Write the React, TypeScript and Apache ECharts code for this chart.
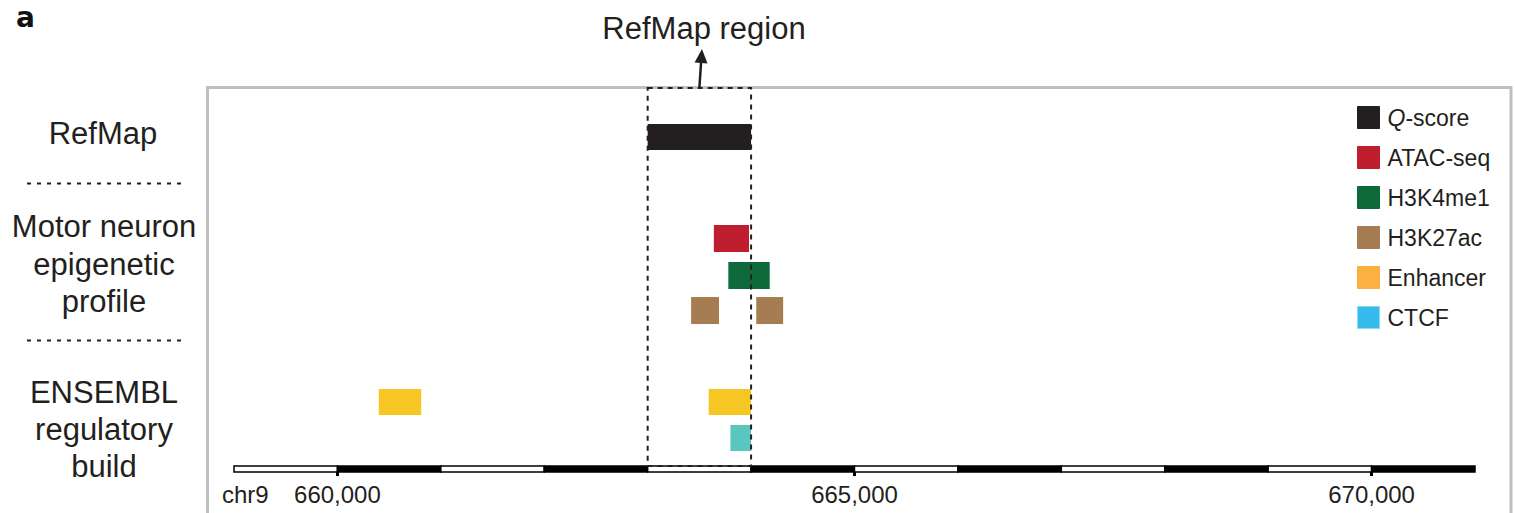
import React, { useEffect, useRef } from "react";
import * as echarts from "echarts";

// ---- data (genomic coordinates, bp) ----
const xRange = [659000, 671000];
const tickValues = [660000, 665000, 670000];

// track rows on a vertical "track" scale (0 = top of panel)
// each feature: [start, end, rowTop, rowBottom]
const qScore = [[663000, 664000, 3.0, 5.17]];
const atacSeq = [[663640, 663980, 11.42, 13.67]];
const h3k4me1 = [[663780, 664180, 14.5, 16.75]];
const h3k27ac = [
  [663420, 663690, 17.42, 19.67],
  [664050, 664310, 17.42, 19.67],
];
const ensemblEnhancer = [
  [660400, 660810, 25.08, 27.25],
  [663590, 664000, 25.08, 27.25],
];
const ensemblCtcf = [[663800, 664000, 28.08, 30.25]];

const refMapRegion = [[663000, 664000, 0, 31.5]];
const arrowData = [[663500, 0, 663525, -3.25]];

// chromosome scale bar blocks: [start, end, filled]
const scaleBlocks = [
  [659000, 660000, 0],
  [660000, 661000, 1],
  [661000, 662000, 0],
  [662000, 663000, 1],
  [663000, 664000, 0],
  [664000, 665000, 1],
  [665000, 666000, 0],
  [666000, 667000, 1],
  [667000, 668000, 0],
  [668000, 669000, 1],
  [669000, 670000, 0],
  [670000, 671000, 1],
];
const scaleBarRow = [31.5, 32];

const legendNames = ["Q-score", "ATAC-seq", "H3K4me1", "H3K27ac", "Enhancer", "CTCF"];
const legendColors = ["#231F20", "#BE1E2D", "#0E6A3A", "#A67C52", "#FBB040", "#35BCEC"];
const ensemblColors = { Enhancer: "#F6C723", CTCF: "#5BC5BF" };

const FAMILY = "Liberation Sans, Arial, Helvetica, sans-serif";
const INK = "#231F20";

function rectItem(color: string) {
  return (params: any, api: any) => {
    const p1 = api.coord([api.value(0), api.value(2)]);
    const p2 = api.coord([api.value(1), api.value(3)]);
    return {
      type: "rect",
      shape: {
        x: Math.min(p1[0], p2[0]),
        y: Math.min(p1[1], p2[1]),
        width: Math.abs(p2[0] - p1[0]),
        height: Math.abs(p2[1] - p1[1]),
      },
      style: { fill: color },
    };
  };
}

export default function App() {
  const ref = useRef<HTMLDivElement>(null);

  useEffect(() => {
    document.body.style.margin = "0";
    if (!ref.current) return;
    const chart = echarts.init(ref.current, null, { renderer: "svg" });

    const featureSeries = (name: string, data: number[][], color: string) => ({
      type: "custom",
      name,
      data,
      encode: { x: [0, 1], y: [2, 3] },
      renderItem: rectItem(color),
      itemStyle: { color },
      z: 3,
    });

    const labelText = (text: string, x: number, y: number, lineHeight?: number) => ({
      type: "text",
      x,
      y,
      style: {
        text,
        fontSize: 31,
        fontFamily: FAMILY,
        lineHeight: lineHeight || 36,
        fill: INK,
        align: "center",
        verticalAlign: "middle",
      },
    });

    const option: any = {
      animation: false,
      backgroundColor: "#ffffff",
      grid: { left: 234, right: 40, top: 88, bottom: 41 },
      xAxis: {
        type: "value",
        position: "bottom",
        min: xRange[0],
        max: xRange[1],
        splitLine: { show: false },
        axisLine: { show: false, onZero: false },
        axisTick: {
          show: true,
          customValues: tickValues,
          length: 4,
          lineStyle: { color: "#000", width: 3 },
        },
        axisLabel: {
          show: true,
          customValues: tickValues,
          margin: 10,
          fontSize: 24,
          fontFamily: FAMILY,
          color: INK,
          formatter: (v: number) => v.toLocaleString("en-US"),
        },
      },
      yAxis: {
        type: "value",
        inverse: true,
        min: 0,
        max: 32,
        show: false,
      },
      legend: {
        orient: "vertical",
        left: 1357,
        top: 106,
        padding: 0,
        itemWidth: 22,
        itemHeight: 22,
        itemGap: 17,
        icon: "rect",
        selectedMode: false,
        textStyle: {
          fontSize: 23,
          fontFamily: FAMILY,
          color: INK,
          padding: [0, 0, 0, 3],
          rich: {
            i: { fontSize: 23, fontFamily: FAMILY, color: INK, fontStyle: "italic" },
            n: { fontSize: 23, fontFamily: FAMILY, color: INK },
          },
        },
        formatter: (name: string) => (name === "Q-score" ? "{i|Q}{n|-score}" : name),
        data: legendNames.map((n, i) => ({
          name: n,
          itemStyle: {
            color: legendColors[i],
            borderColor: n === "CTCF" ? "#8BD6F2" : legendColors[i],
            borderWidth: 1,
          },
        })),
      },
      graphic: [
        {
          type: "rect",
          z: 0,
          shape: { x: 207.5, y: 87.5, width: 1303.5, height: 500 },
          style: { fill: "none", stroke: "#BFBFBF", lineWidth: 3 },
        },
        {
          type: "text",
          left: 16,
          top: 3,
          style: {
            text: "a",
            fontSize: 28,
            fontWeight: "bold",
            fontFamily: "DejaVu Sans, Liberation Sans, sans-serif",
            fill: "#111",
          },
        },
        {
          type: "text",
          x: 704,
          y: 28,
          style: {
            text: "RefMap region",
            fontSize: 31,
            fontFamily: FAMILY,
            fill: INK,
            align: "center",
            verticalAlign: "middle",
          },
        },
        labelText("RefMap", 103, 133),
        labelText("Motor neuron\nepigenetic\nprofile", 104, 264, 37.5),
        labelText("ENSEMBL\nregulatory\nbuild", 104, 429, 37),
        {
          type: "line",
          shape: { x1: 27, y1: 183.5, x2: 182, y2: 183.5 },
          style: { stroke: INK, lineWidth: 2, lineDash: [4, 6] },
        },
        {
          type: "line",
          shape: { x1: 27, y1: 340.5, x2: 182, y2: 340.5 },
          style: { stroke: INK, lineWidth: 2, lineDash: [4, 6] },
        },
        {
          type: "text",
          x: 222,
          y: 494,
          style: { text: "chr9", fontSize: 24, fontFamily: FAMILY, fill: INK, verticalAlign: "middle" },
        },
      ],
      series: [
        featureSeries("Q-score", qScore, legendColors[0]),
        featureSeries("ATAC-seq", atacSeq, legendColors[1]),
        featureSeries("H3K4me1", h3k4me1, legendColors[2]),
        featureSeries("H3K27ac", h3k27ac, legendColors[3]),
        featureSeries("Enhancer", ensemblEnhancer, ensemblColors.Enhancer),
        featureSeries("CTCF", ensemblCtcf, ensemblColors.CTCF),
        {
          type: "custom",
          name: "scalebar",
          data: scaleBlocks.map((b) => [b[0], b[1], scaleBarRow[0], scaleBarRow[1], b[2]]),
          encode: { x: [0, 1], y: [2, 3] },
          z: 4,
          clip: false,
          renderItem: (params: any, api: any) => {
            const p1 = api.coord([api.value(0), api.value(2)]);
            const p2 = api.coord([api.value(1), api.value(3)]);
            const filled = api.value(4) === 1;
            return {
              type: "rect",
              shape: { x: p1[0], y: p1[1], width: p2[0] - p1[0], height: p2[1] - p1[1] },
              style: { fill: filled ? "#000" : "#fff", stroke: "#000", lineWidth: 1.5 },
            };
          },
        },
        {
          type: "custom",
          name: "region",
          data: refMapRegion,
          encode: { x: [0, 1], y: [2, 3] },
          z: 6,
          clip: false,
          renderItem: (params: any, api: any) => {
            const p1 = api.coord([api.value(0), api.value(2)]);
            const p2 = api.coord([api.value(1), api.value(3)]);
            return {
              type: "rect",
              shape: { x: p1[0], y: p1[1], width: p2[0] - p1[0], height: p2[1] - p1[1] },
              style: { fill: "none", stroke: INK, lineWidth: 2, lineDash: [5, 5] },
            };
          },
        },
        {
          type: "custom",
          name: "arrow",
          data: arrowData,
          encode: { x: [0, 2], y: [1, 3] },
          z: 6,
          clip: false,
          renderItem: (params: any, api: any) => {
            const b = api.coord([api.value(0), api.value(1)]);
            const t = api.coord([api.value(2), api.value(3)]);
            const dx = t[0] - b[0];
            const dy = t[1] - b[1];
            const len = Math.sqrt(dx * dx + dy * dy);
            const ux = dx / len;
            const uy = dy / len;
            const hl = 14;
            const hw = 6.5;
            const bx = t[0] - ux * hl;
            const by = t[1] - uy * hl;
            return {
              type: "group",
              children: [
                {
                  type: "line",
                  shape: { x1: b[0], y1: b[1], x2: bx + ux * 2, y2: by + uy * 2 },
                  style: { stroke: INK, lineWidth: 2.5 },
                },
                {
                  type: "polygon",
                  shape: {
                    points: [
                      [t[0], t[1]],
                      [bx - uy * hw, by + ux * hw],
                      [bx + uy * hw, by - ux * hw],
                    ],
                  },
                  style: { fill: INK },
                },
              ],
            };
          },
        },
      ],
    };

    chart.setOption(option);
    return () => chart.dispose();
  }, []);

  return <div ref={ref} style={{ width: 1515, height: 513 }} />;
}
